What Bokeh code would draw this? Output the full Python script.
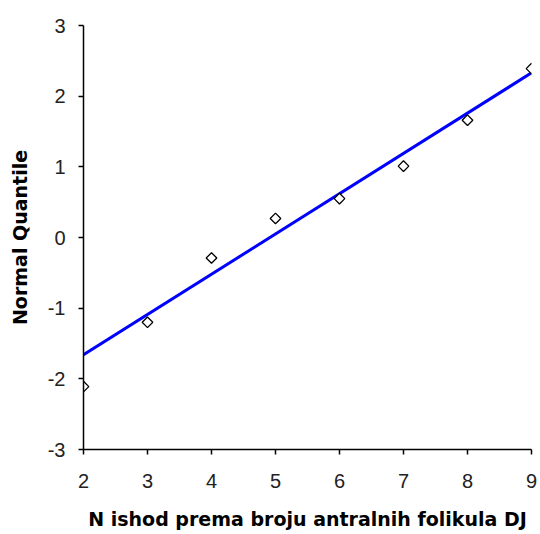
import math
from bokeh.plotting import figure
from bokeh.models import FixedTicker, Range1d
from bokeh.embed import file_html
from bokeh.resources import INLINE

# Data
x_vals = [2, 3, 4, 5, 6, 7, 8, 9]
quantiles = [-2.11, -1.20, -0.29, 0.27, 0.55, 1.01, 1.66, 2.39]
fit_x = [2, 9]
fit_y = [-1.66, 2.33]
x_ticks = [2, 3, 4, 5, 6, 7, 8, 9]
y_ticks = [-3, -2, -1, 0, 1, 2, 3]
y_tick_labels = ["-3", "-2", "-1", "0", "1", "2", "3"]
x_label = "N ishod prema broju antralnih folikula DJ"
y_label = "Normal Quantile"

p = figure(width=538, height=532, output_backend="svg", toolbar_location=None,
           x_range=Range1d(2, 9), y_range=Range1d(-3, 3),
           min_border_left=83, min_border_right=7, min_border_top=25, min_border_bottom=83)
p.outline_line_color = None
p.xgrid.grid_line_color = None
p.ygrid.grid_line_color = None
p.background_fill_color = "white"

p.line(fit_x, fit_y, line_color="#0000ff", line_width=3)
p.scatter(x_vals, quantiles, marker="square", angle=math.pi / 4, size=7.5,
          fill_color="white", line_color="black", line_width=1.3)

for ax in (p.xaxis[0], p.yaxis[0]):
    ax.axis_line_color = "black"
    ax.axis_line_width = 1.5
    ax.major_tick_line_color = "black"
    ax.major_tick_line_width = 1.5
    ax.major_tick_in = 0
    ax.major_tick_out = 5
    ax.minor_tick_line_color = None
    ax.major_label_text_font = "Liberation Sans"
    ax.major_label_text_font_size = "20px"
    ax.major_label_text_color = "#222222"
    ax.axis_label_text_font = "DejaVu Sans"
    ax.axis_label_text_font_style = "bold"
    ax.axis_label_text_color = "black"

p.xaxis[0].ticker = FixedTicker(ticks=x_ticks)
p.yaxis[0].ticker = FixedTicker(ticks=y_ticks)
p.yaxis[0].major_label_overrides = {t: s for t, s in zip(y_ticks, y_tick_labels)}
p.xaxis[0].axis_label = x_label
p.yaxis[0].axis_label = y_label
p.xaxis[0].axis_label_text_font_size = "19px"
p.yaxis[0].axis_label_text_font_size = "19px"
p.xaxis[0].major_label_standoff = 19
p.xaxis[0].axis_label_standoff = 17
p.yaxis[0].major_label_standoff = 13
p.yaxis[0].axis_label_standoff = 14

open("out.html", "w").write(file_html(p, INLINE))
